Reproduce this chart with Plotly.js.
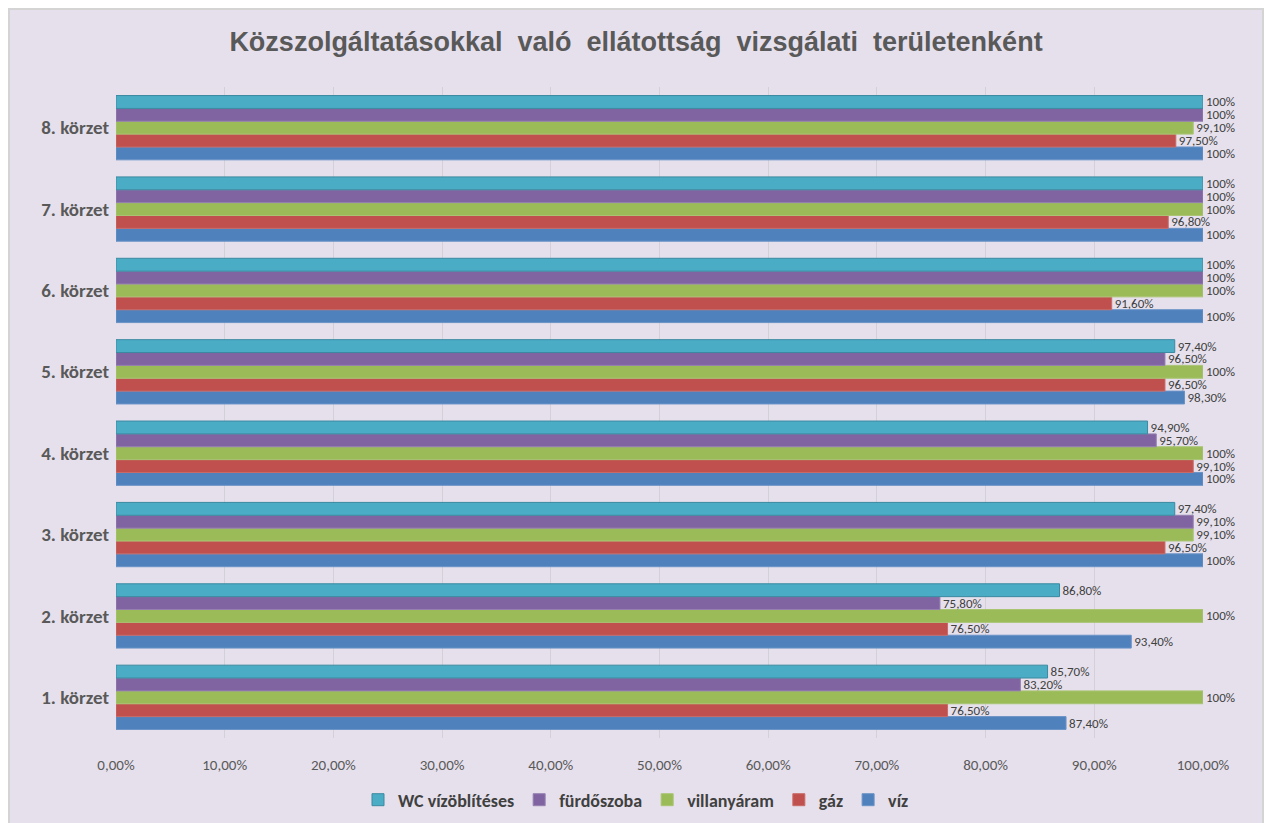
<!DOCTYPE html>
<html>
<head>
<meta charset="utf-8">
<script src="https://cdn.plot.ly/plotly-3.0.1.min.js"></script>
<style>
  html, body { margin: 0; padding: 0; background: #ffffff; width: 1266px; height: 823px; overflow: hidden; }
  #frame { position: absolute; left: 8px; top: 8px; width: 1252px; height: 815px; border-left: 2px solid #d4d4d4; border-top: 2px solid #d4d4d4; border-right: 2px solid #d4d4d4; background: #e6e0ec; }
  #chart { width: 1252px; height: 813px; }
</style>
</head>
<body>
<div id="frame"><div id="chart"></div></div>
<script>
const categories = ["1. körzet", "2. körzet", "3. körzet", "4. körzet", "5. körzet", "6. körzet", "7. körzet", "8. körzet"];
const viz        = [87.4, 93.4, 100, 100, 98.3, 100, 100, 100];
const gaz        = [76.5, 76.5, 96.5, 99.1, 96.5, 91.6, 96.8, 97.5];
const villany    = [100, 100, 99.1, 100, 100, 100, 100, 99.1];
const furdo      = [83.2, 75.8, 99.1, 95.7, 96.5, 100, 100, 100];
const wc         = [85.7, 86.8, 97.4, 94.9, 97.4, 100, 100, 100];
const xTicks     = [0, 10, 20, 30, 40, 50, 60, 70, 80, 90, 100];
const xTickText  = ["0,00%", "10,00%", "20,00%", "30,00%", "40,00%", "50,00%", "60,00%", "70,00%", "80,00%", "90,00%", "100,00%"];

function lbl(v) {
  return v === 100 ? "100%" : v.toFixed(2).replace(".", ",") + "%";
}

const FONT = "Carlito, Calibri, Lato, 'Liberation Sans', Arial, sans-serif";

const series = [
  {name: "víz", values: viz, color: "#4f81bd", edge: "#6a93c6"},
  {name: "gáz", values: gaz, color: "#c0504d", edge: "#c96a67"},
  {name: "villanyáram", values: villany, color: "#9bbb59", edge: "#a9c473"},
  {name: "fürdőszoba", values: furdo, color: "#8064a2", edge: "#9580b0"},
  {name: "WC vízöblítéses", values: wc, color: "#4bacc6", edge: "#3a8aa0"}
];

const traces = series.map(s => ({
  type: "bar",
  orientation: "h",
  name: s.name,
  y: categories,
  x: s.values,
  text: s.values.map(lbl),
  textposition: "outside",
  constraintext: "none",
  cliponaxis: false,
  textfont: {family: FONT, size: 13, color: "#404040", shadow: "none"},
  marker: {color: s.color, line: {color: s.edge, width: 1}},
  hoverinfo: "x+name"
}));

const plotL = 106, plotR = 59, plotT = 77, plotB = 85, W = 1252, H = 813;
const plotW = W - plotL - plotR, plotH = H - plotT - plotB;

const layout = {
  width: W,
  height: H,
  paper_bgcolor: "#e6e0ec",
  plot_bgcolor: "rgba(0,0,0,0)",
  margin: {l: plotL, r: plotR, t: plotT, b: plotB, autoexpand: false},
  barmode: "group",
  bargap: 0.21,
  bargroupgap: 0,
  title: {
    text: "<b>Közszolgáltatásokkal  való  ellátottság  vizsgálati  területenként</b>",
    font: {family: "'Liberation Sans', Arial, sans-serif", size: 27, color: "#595959"},
    x: 0.5, xref: "container", xanchor: "center",
    y: 1 - 32/H, yref: "container", yanchor: "middle"
  },
  xaxis: {
    range: [0, 100],
    tickvals: xTicks,
    ticktext: xTickText,
    showgrid: true,
    gridcolor: "#d4d0d8",
    gridwidth: 1,
    zeroline: false,
    showline: false,
    ticks: "",
    ticklabelstandoff: 16,
    tickfont: {family: FONT, size: 15, color: "#595959"},
    fixedrange: true
  },
  yaxis: {
    type: "category",
    showgrid: false,
    zeroline: false,
    showline: false,
    ticks: "",
    ticklabelstandoff: 6,
    tickfont: {family: FONT, size: 19, color: "#595959", weight: "bold"},
    fixedrange: true
  },
  legend: {
    orientation: "h",
    traceorder: "reversed",
    x: (626 - plotL) / plotW, xref: "paper", xanchor: "center",
    y: -62 / plotH, yanchor: "middle",
    font: {family: FONT, size: 18, color: "#404040", weight: "bold"},
    itemwidth: 30,
    bgcolor: "rgba(0,0,0,0)"
  },
  showlegend: true
};

Plotly.newPlot("chart", traces, layout, {displayModeBar: false});
</script>
</body>
</html>
